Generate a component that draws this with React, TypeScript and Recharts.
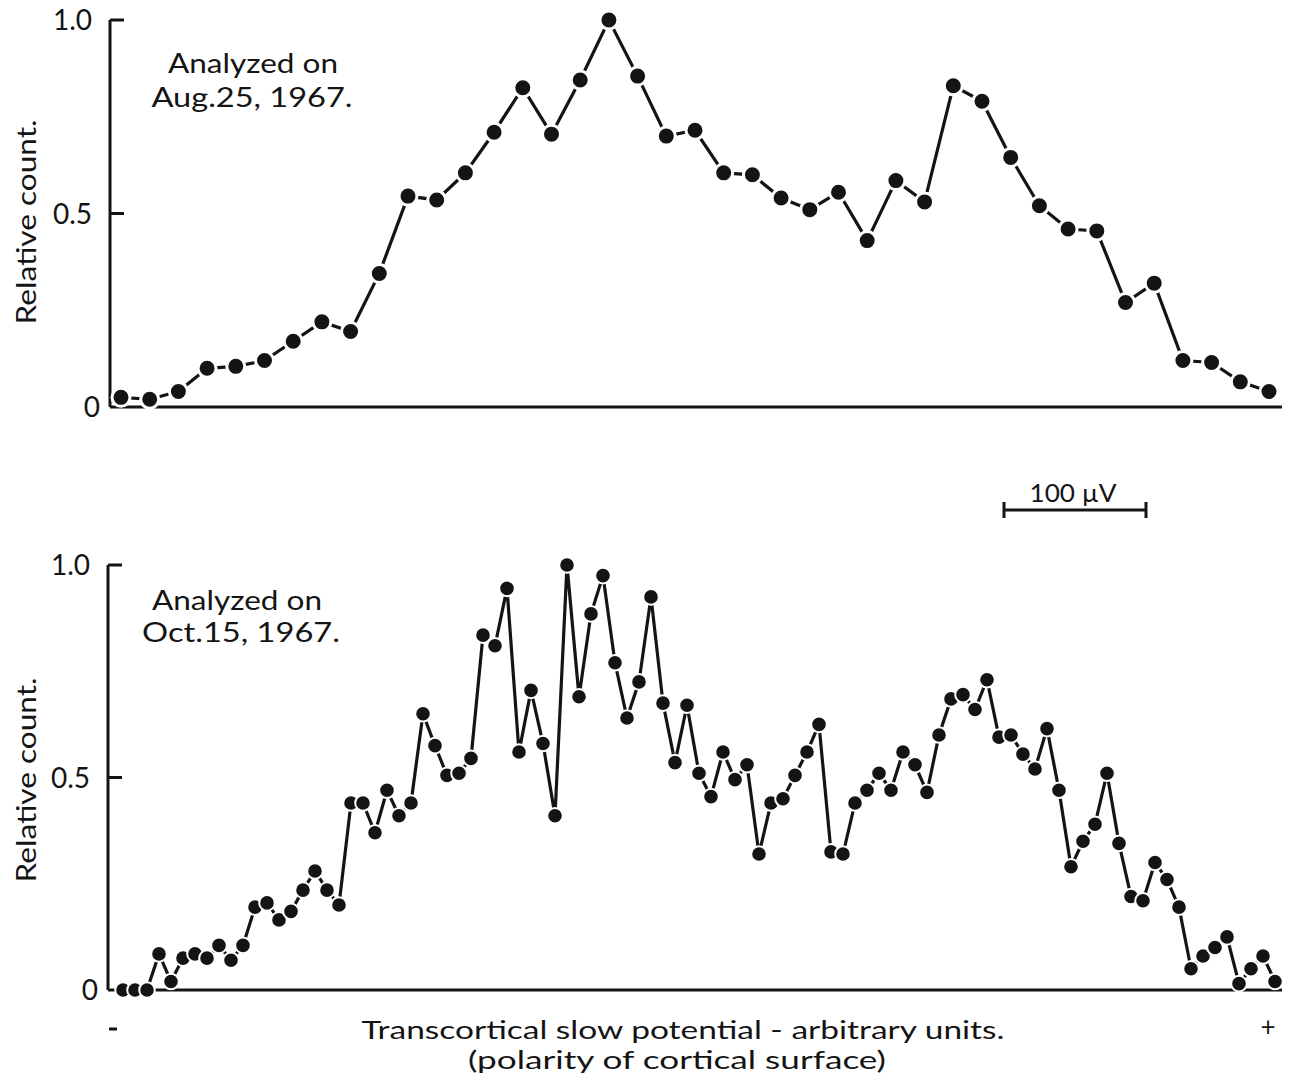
import React from 'react';
import { LineChart, Line, XAxis, YAxis } from 'recharts';

// relative count per bin, first analysis (Aug. 25, 1967)
const augCounts = [
  0.025, 0.02, 0.04, 0.1, 0.105, 0.12, 0.17, 0.22, 0.195, 0.345,
  0.545, 0.535, 0.605, 0.71, 0.825, 0.705, 0.845, 1.0, 0.855, 0.7,
  0.715, 0.605, 0.6, 0.54, 0.51, 0.555, 0.43, 0.585, 0.53, 0.83,
  0.79, 0.645, 0.52, 0.46, 0.455, 0.27, 0.32, 0.12, 0.115, 0.065,
  0.04,
];

// second analysis (Oct. 15, 1967), finer bins
const octCounts = [
  0, 0, 0, 0.085, 0.02, 0.075, 0.085, 0.075, 0.105, 0.07,
  0.105, 0.195, 0.205, 0.165, 0.185, 0.235, 0.28, 0.235, 0.2, 0.44,
  0.44, 0.37, 0.47, 0.41, 0.44, 0.65, 0.575, 0.505, 0.51, 0.545,
  0.835, 0.81, 0.945, 0.56, 0.705, 0.58, 0.41, 1.0, 0.69, 0.885,
  0.975, 0.77, 0.64, 0.725, 0.925, 0.675, 0.535, 0.67, 0.51, 0.455,
  0.56, 0.495, 0.53, 0.32, 0.44, 0.45, 0.505, 0.56, 0.625, 0.325,
  0.32, 0.44, 0.47, 0.51, 0.47, 0.56, 0.53, 0.465, 0.6, 0.685,
  0.695, 0.66, 0.73, 0.595, 0.6, 0.555, 0.52, 0.615, 0.47, 0.29,
  0.35, 0.39, 0.51, 0.345, 0.22, 0.21, 0.3, 0.26, 0.195, 0.05,
  0.08, 0.1, 0.125, 0.015, 0.05, 0.08, 0.02,
];

const yTicks = [0, 0.5, 1];
const yTickLabels = ['0', '0.5', '1.0'];

const INK = '#141414';
const FONT = 'Lato, "Noto Sans", sans-serif';
const TICK_GAP = 18;
const TICK_LEN = 14;

// tick label on the left plus a short inward tick
const LeftTick = (props: any) => {
  const { x, y, payload } = props;
  const label = yTickLabels[yTicks.indexOf(payload.value)];
  return (
    <g>
      {payload.value > 0 && (
        <line x1={x + TICK_GAP} y1={y} x2={x + TICK_GAP + TICK_LEN} y2={y} stroke={INK} strokeWidth={3} />
      )}
      <text x={payload.value === 0 ? x + 8 : x} y={y} dy="0.36em" textAnchor="end" fontSize={28} fill={INK} fontFamily={FONT}>
        {label}
      </text>
    </g>
  );
};

// small upright tick closing the x axis on the right
const EdgeTick = (props: any) => {
  const { x, y } = props;
  return <line x1={x} y1={y + 1} x2={x} y2={y - 12} stroke={INK} strokeWidth={3} />;
};

interface PanelProps {
  counts: number[];
  top: number;
  height: number;
  axisX: number;
  plotTop: number;
  plotBottom: number;
  pad: { left: number; right: number };
  dotR: number;
  ring: number;
}

const Panel = ({ counts, top, height, axisX, plotTop, plotBottom, pad, dotR, ring }: PanelProps) => {
  const data = counts.map((count, i) => ({ bin: i + 1, count }));
  const xAxisHeight = 2;
  return (
    <div style={{ position: 'absolute', left: 0, top }}>
      <LineChart
        width={1292}
        height={height}
        data={data}
        margin={{ top: plotTop, right: 10, left: 0, bottom: height - plotBottom - xAxisHeight }}
      >
        <XAxis
          dataKey="bin"
          height={xAxisHeight}
          tick={false}
          tickLine={false}
          axisLine={{ stroke: INK, strokeWidth: 3 }}
          padding={pad}
        />
        <YAxis
          domain={[0, 1]}
          ticks={yTicks}
          width={axisX}
          tickSize={0}
          tickMargin={TICK_GAP}
          axisLine={{ stroke: INK, strokeWidth: 3 }}
          tick={<LeftTick />}
        />
        <YAxis
          yAxisId="edge"
          orientation="right"
          domain={[0, 1]}
          ticks={[0]}
          width={0}
          tickSize={0}
          tickMargin={0}
          axisLine={false}
          tick={<EdgeTick />}
        />
        <Line
          type="linear"
          dataKey="count"
          stroke={INK}
          strokeWidth={3.2}
          dot={{ r: dotR, fill: INK, stroke: '#fff', strokeWidth: ring }}
          activeDot={false}
          isAnimationActive={false}
        />
      </LineChart>
    </div>
  );
};

const txt = { fill: INK, fontFamily: FONT } as const;

export default function App() {
  return (
    <div style={{ position: 'absolute', left: 0, top: 0, width: 1292, height: 1084, background: '#fff' }}>
      <Panel
        counts={augCounts}
        top={0}
        height={440}
        axisX={110}
        plotTop={20}
        plotBottom={407}
        pad={{ left: 11, right: 13 }}
        dotR={9}
        ring={3}
      />
      <Panel
        counts={octCounts}
        top={530}
        height={490}
        axisX={108}
        plotTop={35}
        plotBottom={460}
        pad={{ left: 15, right: 7 }}
        dotR={7.8}
        ring={2}
      />
      <svg width={1292} height={1084} style={{ position: 'absolute', left: 0, top: 0, pointerEvents: 'none' }}>
        {/* axis titles */}
        <text transform="translate(36,222) rotate(-90)" textAnchor="middle" fontSize={26} textLength={205} lengthAdjust="spacingAndGlyphs" {...txt}>
          Relative count.
        </text>
        <text transform="translate(36,780) rotate(-90)" textAnchor="middle" fontSize={26} textLength={205} lengthAdjust="spacingAndGlyphs" {...txt}>
          Relative count.
        </text>

        {/* panel notes */}
        <text x={253} y={73} textAnchor="middle" fontSize={27} textLength={170} lengthAdjust="spacingAndGlyphs" {...txt}>
          Analyzed on
        </text>
        <text x={252} y={107} textAnchor="middle" fontSize={27} textLength={201} lengthAdjust="spacingAndGlyphs" {...txt}>
          Aug.25, 1967.
        </text>
        <text x={237} y={610} textAnchor="middle" fontSize={27} textLength={170} lengthAdjust="spacingAndGlyphs" {...txt}>
          Analyzed on
        </text>
        <text x={241} y={642} textAnchor="middle" fontSize={27} textLength={198} lengthAdjust="spacingAndGlyphs" {...txt}>
          Oct.15, 1967.
        </text>

        {/* 100 µV scale bar */}
        <text x={1073} y={502} textAnchor="middle" fontSize={25} textLength={87} lengthAdjust="spacingAndGlyphs" {...txt}>
          100 µV
        </text>
        <line x1={1004} y1={510} x2={1146} y2={510} stroke={INK} strokeWidth={3} />
        <line x1={1004} y1={502} x2={1004} y2={518} stroke={INK} strokeWidth={3} />
        <line x1={1146} y1={502} x2={1146} y2={518} stroke={INK} strokeWidth={3} />

        {/* x axis title with polarity marks */}
        <line x1={109} y1={1029} x2={117} y2={1029} stroke={INK} strokeWidth={3} />
        <text x={1268} y={1036} textAnchor="middle" fontSize={26} {...txt}>+</text>
        <text x={683} y={1039} textAnchor="middle" fontSize={25} textLength={643} lengthAdjust="spacingAndGlyphs" {...txt}>
          Transcortical slow potential  -  arbitrary units.
        </text>
        <text x={677} y={1069} textAnchor="middle" fontSize={25} textLength={418} lengthAdjust="spacingAndGlyphs" {...txt}>
          (polarity of cortical surface)
        </text>
      </svg>
    </div>
  );
}
